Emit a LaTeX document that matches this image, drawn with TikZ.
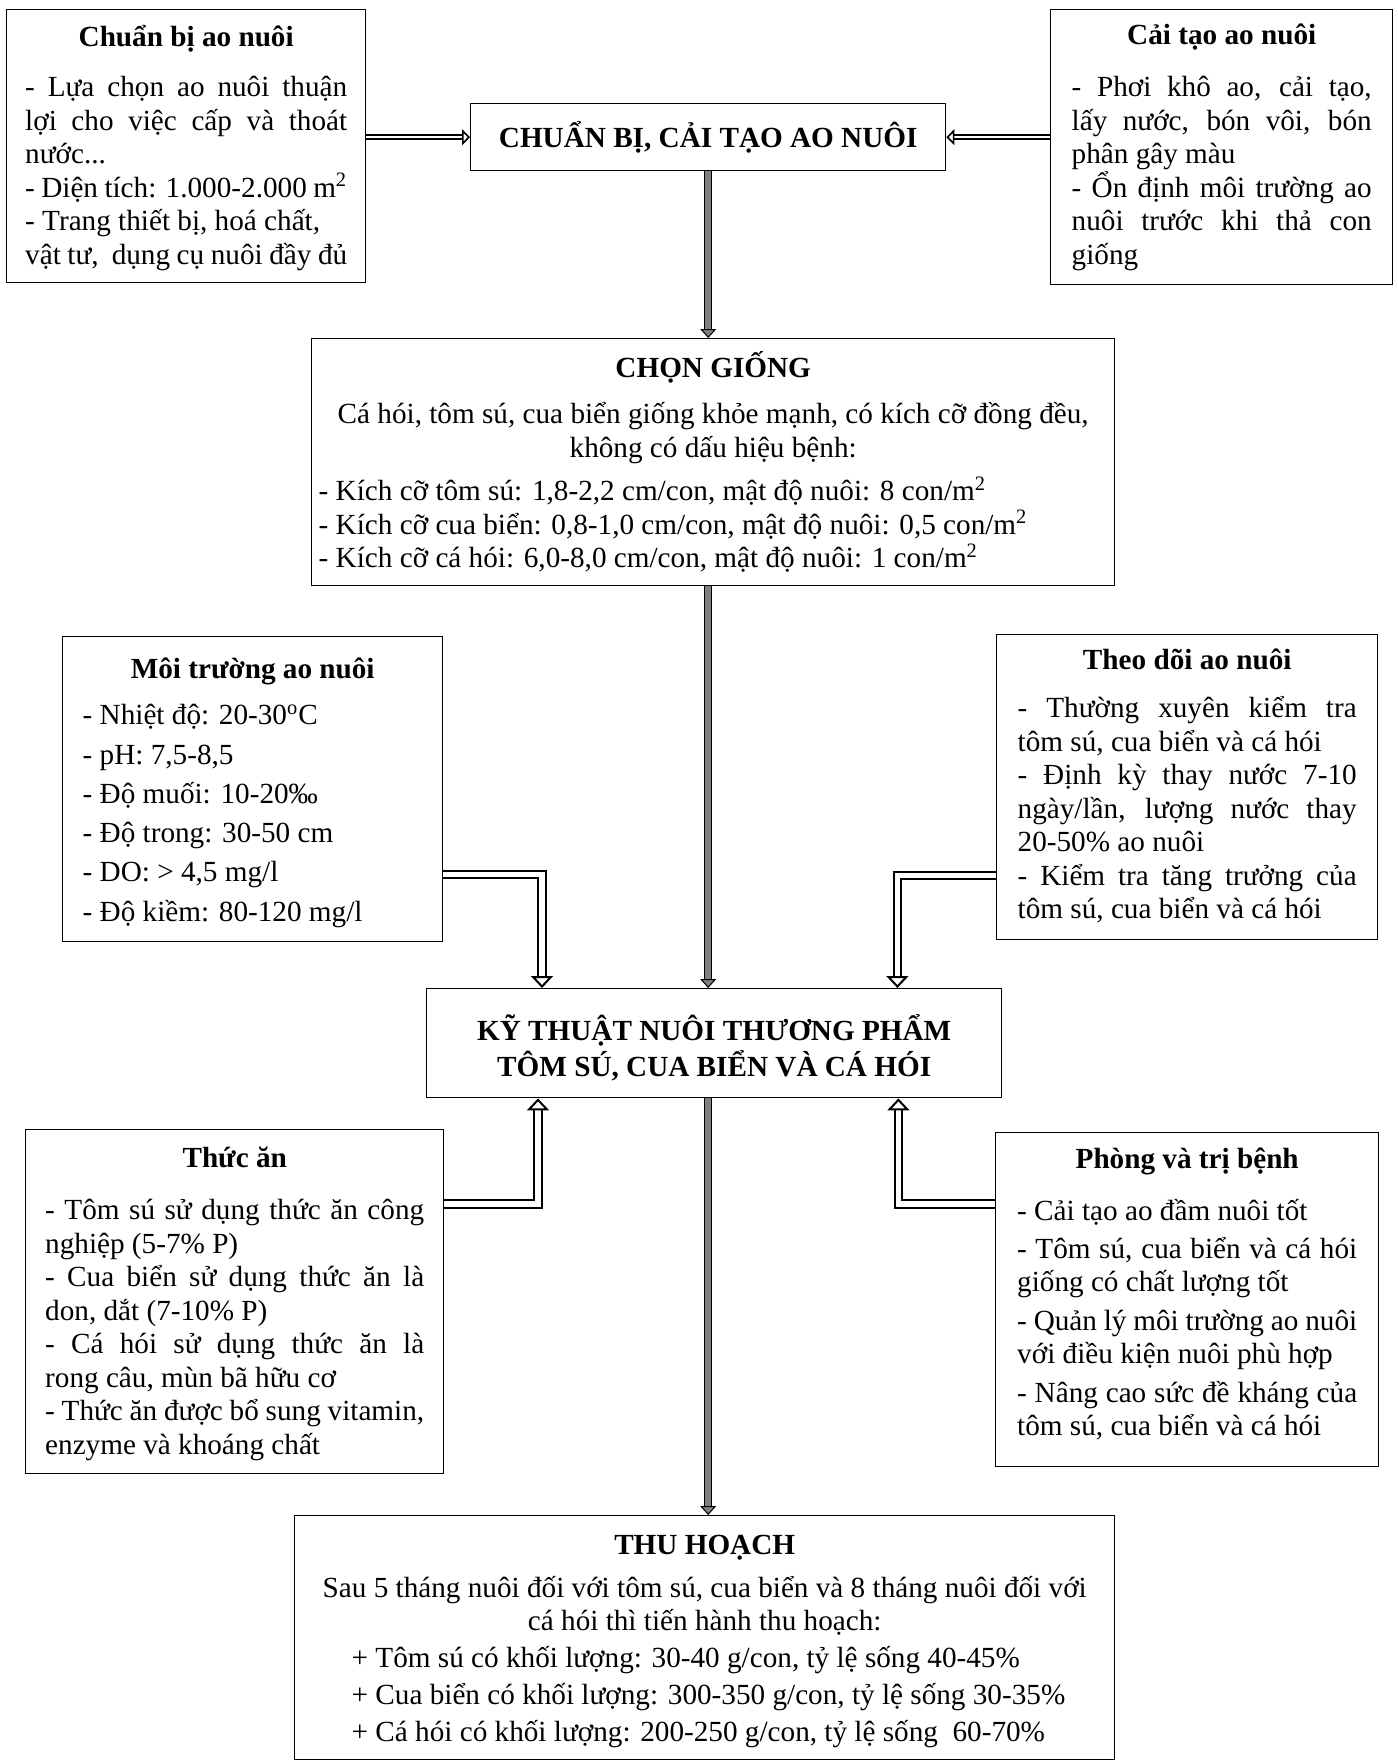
\documentclass[tikz,border=0pt]{standalone}
\usepackage{fontspec}
\setmainfont{Liberation Serif}
\usetikzlibrary{arrows.meta,backgrounds}
\newcommand{\basefont}{\fontsize{14.6pt}{16.75pt}\selectfont}
\newcommand{\boxtitle}[1]{{\centering\bfseries\rule{0pt}{15pt}#1\par}}
\newcommand{\boxbody}[4]{\parbox[c][#1][t]{#2}{\vspace*{#3}#4}}
\hyphenpenalty=10000
\exhyphenpenalty=10000
\tolerance=9999
\tikzset{
  panel/.style={draw,line width=0.7pt,anchor=north west,inner ysep=0pt,inner xsep=#1},
  headbox/.style={draw,line width=0.7pt,anchor=north west,inner sep=0pt,align=center,font=\basefont\bfseries},
  thinlink/.style={draw=black,line width=0.8pt,double=white,double distance=1.3pt,-{Triangle[open,width=8pt,length=4pt,line width=0.8pt]}},
  hollowlink/.style={draw=black,line width=1pt,double=white,double distance=2.6pt,line join=miter,-{Triangle[open,width=11pt,length=6pt,line width=1pt]}},
  graylink/.style={draw=black,line width=0.5pt,double=gray,double distance=3pt,-{Triangle[fill=gray,width=8pt,length=4.5pt,line width=0.5pt]}}
}
\begin{document}
\begin{tikzpicture}[x=0.5pt,y=-0.5pt,font=\basefont]
  \useasboundingbox (0,0) rectangle (1397,1760);
  % top row
  \node[panel=9.25pt] (prep) at (6,9) {\boxbody{136.5pt}{161pt}{3.5pt}{%
    \boxtitle{Chuẩn bị ao nuôi}\vspace{8.25pt}
    - Lựa chọn ao nuôi thuận\linebreak lợi cho việc cấp và thoát\linebreak nước...\\
    - Diện tích: 1.000-2.000 m\textsuperscript{2}\\
    - Trang thiết bị, hoá chất,\\
    vật tư,\ \ dụng cụ nuôi đầy đủ}};
  \node[panel=10.5pt] (renov) at (1050,9) {\boxbody{137.5pt}{150pt}{2.5pt}{%
    \boxtitle{Cải tạo ao nuôi}\vspace{9.25pt}
    - Phơi khô ao, cải tạo,\linebreak lấy nước, bón vôi, bón\linebreak phân gây màu\\
    - Ổn định môi trường ao\linebreak nuôi trước khi thả con\linebreak giống}};
  \node[headbox,minimum width=237.5pt,minimum height=33.5pt] (top) at (470,103) {CHUẨN BỊ, CẢI TẠO AO NUÔI};
  % seed
  \node[panel=3.5pt] (seed) at (311,338) {\boxbody{123.5pt}{394.5pt}{4.5pt}{%
    \boxtitle{CHỌN GIỐNG}\vspace{6.25pt}
    {\centering Cá hói, tôm sú, cua biển giống khỏe mạnh, có kích cỡ đồng đều,\\ không có dấu hiệu bệnh:\par}\vspace{5pt}
    - Kích cỡ tôm sú: 1,8-2,2 cm/con, mật độ nuôi: 8 con/m\textsuperscript{2}\\
    - Kích cỡ cua biển: 0,8-1,0 cm/con, mật độ nuôi: 0,5 con/m\textsuperscript{2}\\
    - Kích cỡ cá hói: 6,0-8,0 cm/con, mật độ nuôi: 1 con/m\textsuperscript{2}}};
  % middle row
  \node[panel=10pt] (env) at (62,636) {\boxbody{152.5pt}{170pt}{6.1pt}{%
    \boxtitle{Môi trường ao nuôi}\vspace{6.15pt}
    - Nhiệt độ: 20-30\textsuperscript{o}C\\[2.9pt]
    - pH: 7,5-8,5\\[2.9pt]
    - Độ muối: 10-20‰\\[2.9pt]
    - Độ trong: 30-50 cm\\[2.9pt]
    - DO: > 4,5 mg/l\\[2.9pt]
    - Độ kiềm: 80-120 mg/l}};
  \node[panel=10.5pt] (monitor) at (996,634) {\boxbody{152.5pt}{169.5pt}{2.5pt}{%
    \boxtitle{Theo dõi ao nuôi}\vspace{7.25pt}
    - Thường xuyên kiểm tra\linebreak tôm sú, cua biển và cá hói\\
    - Định kỳ thay nước 7-10\linebreak ngày/lần, lượng nước thay\linebreak 20-50\% ao nuôi\\
    - Kiểm tra tăng trưởng của\linebreak tôm sú, cua biển và cá hói}};
  \node[panel=0pt] (core) at (426,988) {\boxbody{54.5pt}{287.5pt}{11pt}{%
    {\centering\bfseries\rule{0pt}{15pt}KỸ THUẬT NUÔI THƯƠNG PHẨM\\[1.25pt] TÔM SÚ, CUA BIỂN VÀ CÁ HÓI\par}}};
  % lower row
  \node[panel=9.75pt] (feed) at (25,1129) {\boxbody{172pt}{189.5pt}{4.1pt}{%
    \boxtitle{Thức ăn}\vspace{9.05pt}
    - Tôm sú sử dụng thức ăn công\linebreak nghiệp (5-7\% P)\\
    - Cua biển sử dụng thức ăn là\linebreak don, dắt (7-10\% P)\\
    - Cá hói sử dụng thức ăn là\linebreak rong câu, mùn bã hữu cơ\\
    - Thức ăn được bổ sung vitamin,\linebreak enzyme và khoáng chất}};
  \node[panel=10.75pt] (treat) at (995,1132) {\boxbody{167pt}{170pt}{3pt}{%
    \boxtitle{Phòng và trị bệnh}\vspace{8.95pt}
    - Cải tạo ao đầm nuôi tốt\\[2.4pt]
    - Tôm sú, cua biển và cá hói\linebreak giống có chất lượng tốt\\[2.4pt]
    - Quản lý môi trường ao nuôi\linebreak với điều kiện nuôi phù hợp\\[2.4pt]
    - Nâng cao sức đề kháng của\linebreak tôm sú, cua biển và cá hói}};
  % harvest
  \node[panel=5pt] (harvest) at (294,1515) {\boxbody{122pt}{400pt}{4.6pt}{%
    \boxtitle{THU HOẠCH}\vspace{4.35pt}
    {\centering Sau 5 tháng nuôi đối với tôm sú, cua biển và 8 tháng nuôi đối với\\ cá hói thì tiến hành thu hoạch:\par}\vspace{1.75pt}
    \hspace*{23.5pt}+ Tôm sú có khối lượng: 30-40 g/con, tỷ lệ sống 40-45\%\\[1.75pt]
    \hspace*{23.5pt}+ Cua biển có khối lượng: 300-350 g/con, tỷ lệ sống 30-35\%\\[1.75pt]
    \hspace*{23.5pt}+ Cá hói có khối lượng: 200-250 g/con, tỷ lệ sống\ \ 60-70\%}};
  % connectors
  \begin{scope}[on background layer]
    \draw[thinlink] (prep.east |- top.west) -- (top.west);
    \draw[thinlink] (renov.west |- top.east) -- (top.east);
    \draw[graylink] (top.south) -- (top.south |- seed.north);
    \draw[graylink] (top.south |- seed.south) -- (top.south |- core.north);
    \draw[graylink] (top.south |- core.south) -- (top.south |- harvest.north);
    \draw[hollowlink] ([yshift=34pt]env.south east) -| ([xshift=58pt]core.north west);
    \draw[hollowlink] ([yshift=32.5pt]monitor.south west) -| ([xshift=-52.5pt]core.north east);
    \draw[hollowlink] ([yshift=-37.5pt]feed.north east) -| ([xshift=56pt]core.south west);
    \draw[hollowlink] ([yshift=-36pt]treat.north west) -| ([xshift=-52pt]core.south east);
  \end{scope}
\end{tikzpicture}
\end{document}
